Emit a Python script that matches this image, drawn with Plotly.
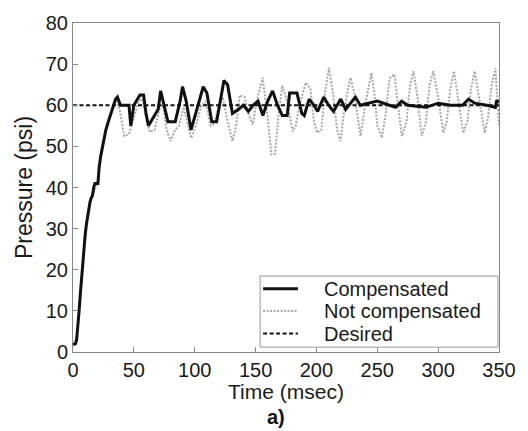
import plotly.graph_objects as go

# Compensated response (time in msec, pressure in psi)
comp_t = [0, 2, 3, 4, 5, 6, 7, 8, 9, 10, 11, 12, 13, 14, 15, 16, 17, 18, 20.5, 21.5, 23, 25, 27, 29, 31, 33, 35, 36.5, 38, 39,
          46, 47.5, 50, 53, 55, 58, 60, 62, 66, 70, 72, 75, 78, 84, 88, 90, 93, 97, 100, 104, 107, 110, 114, 118, 122, 124, 127,
          131, 136, 140, 144, 148, 152, 156, 160, 164, 168, 172, 176, 178, 184, 188, 190, 194, 198, 201, 206, 210, 214, 220,
          224, 232, 236, 250, 260, 265, 270, 275, 290, 300, 310, 320, 325, 330, 340, 347, 348, 350]
comp_p = [1.8, 2, 3, 6, 10, 14, 18, 22, 25.5, 28.5, 31, 33, 35, 36.5, 37.5, 38, 40, 41, 41, 45, 48, 51, 54, 56, 58, 60, 61.5, 62, 61, 60,
          60, 55, 60, 61.5, 62.5, 62.5, 58, 55, 57, 59, 63.5, 60, 56, 56, 61, 64.5, 61, 54, 57, 61, 64.5, 63, 56, 56, 63, 66, 65,
          58, 59, 60, 58.5, 60, 61, 57.5, 61, 63.5, 60, 57.5, 57.5, 63, 63, 58, 57.5, 61.5, 60, 58.5, 62, 60, 58.5, 61.5,
          59, 62, 60, 61, 60, 59.5, 61, 60, 59.5, 60.5, 60, 60, 61.5, 60.5, 60, 59.5, 61, 61]

# Not compensated response
nc_t = [0, 2, 4, 6, 8, 10, 12, 14, 16, 18, 20, 22, 25, 28, 31, 34, 36, 39, 42, 46, 50, 54, 57, 60, 63, 67, 71, 74, 77, 80, 84, 87,
        91, 94, 97, 101, 105, 109, 113, 116, 120, 123, 127, 131, 134, 137, 141, 144, 147.6, 151, 155.8, 160, 163, 166, 169, 172,
        176, 180.3, 183, 186, 191.2, 195, 198, 200.7, 204, 207, 210.3, 214, 217, 219.8, 222, 226, 228, 231, 236.2, 240, 245.2,
        248, 250, 253.8, 257, 260, 264, 267, 270.2, 274, 277, 279.7, 283, 286.5, 290, 293, 296, 300, 304.3, 307, 310, 313, 317,
        320.6, 324, 327, 330, 334, 338.3, 341, 344, 347, 350]
nc_p = [2, 2.5, 6.5, 14.5, 22.5, 28.5, 33.5, 36.5, 38.5, 39.5, 41, 46, 51.5, 55.5, 58, 60.5, 61.5, 58, 52.5, 53, 57, 61, 61.5, 57, 53.5, 54, 59, 60, 54, 51.3, 54, 55,
        59.5, 56, 52, 55, 59.5, 61, 55, 55.5, 60, 62, 56, 51.3, 55, 62.4, 62, 58, 55.3, 61, 66.7, 57, 48, 48.2, 58, 64.8,
        61, 53.7, 55, 60, 65.5, 64, 56, 53.3, 54, 63, 69.1, 62, 54, 51.3, 57, 64, 66.7, 63, 52.5, 60, 67.9,
        62, 55, 52.1, 58, 66.5, 67.5, 60, 52.5, 56, 65, 68.3, 62, 52.5, 56, 65, 68.3, 62, 53.3, 56, 64, 68.3, 61,
        53.3, 56, 64, 68.3, 61, 53.3, 57, 65, 69, 55]

# Desired setpoint
des_t = [0, 350]
des_p = [60, 60]

x_ticks = [0, 50, 100, 150, 200, 250, 300, 350]
y_ticks = [0, 10, 20, 30, 40, 50, 60, 70, 80]

legend_names = ["Compensated", "Not compensated", "Desired"]

FONT = "Liberation Sans, Arial, sans-serif"
BLACK = "#111111"
GRAY = "#a8a8a8"
DOT = "2px,1.5px"
DASH = "4px,2.5px"

fig = go.Figure()
fig.add_trace(go.Scatter(x=nc_t, y=nc_p, mode="lines", name=legend_names[1],
                         line=dict(color=GRAY, width=2, dash=DOT)))
fig.add_trace(go.Scatter(x=des_t, y=des_p, mode="lines", name=legend_names[2],
                         line=dict(color=BLACK, width=2, dash=DASH)))
fig.add_trace(go.Scatter(x=comp_t, y=comp_p, mode="lines", name=legend_names[0],
                         line=dict(color=BLACK, width=3)))

axis_common = dict(showgrid=False, zeroline=False, showline=True, mirror=True,
                   linecolor="#888888", linewidth=1, ticks="inside", ticklen=5,
                   tickcolor="#888888", tickfont=dict(family=FONT, size=20, color="#1a1a1a"))

# Compact legend box (lower right), drawn in paper coordinates
box = dict(x0=0.4393, x1=0.9977, y0=0.0148, y1=0.2308)
rows_y = [0.1923, 0.1243, 0.0562]
sample_x = (0.4463, 0.5280)
text_x = 0.5841
styles = [dict(color=BLACK, width=3), dict(color=GRAY, width=2, dash=DOT), dict(color=BLACK, width=2, dash=DASH)]

shapes = [dict(type="rect", xref="paper", yref="paper", **box,
               line=dict(color="#999999", width=1), fillcolor="white", layer="above")]
annotations = []
for name, yy, st in zip(legend_names, rows_y, styles):
    shapes.append(dict(type="line", xref="paper", yref="paper", x0=sample_x[0], x1=sample_x[1],
                       y0=yy, y1=yy, line=st, layer="above"))
    annotations.append(dict(text=name, xref="paper", yref="paper", x=text_x, y=yy,
                            xanchor="left", yanchor="middle", showarrow=False,
                            font=dict(family=FONT, size=20, color="#1a1a1a")))

# x-axis title and panel label
annotations.append(dict(text="Time (msec)", xref="paper", yref="paper", x=0.5, y=-0.119,
                        xanchor="center", yanchor="middle", showarrow=False,
                        font=dict(family=FONT, size=21, color="#1a1a1a")))
annotations.append(dict(text="<b>a)</b>", xref="paper", yref="paper", x=0.477, y=-0.198,
                        xanchor="center", yanchor="middle", showarrow=False,
                        font=dict(family=FONT, size=20, color=BLACK)))

fig.update_layout(
    width=528, height=431,
    margin=dict(l=73, r=27, t=14, b=79),
    paper_bgcolor="white", plot_bgcolor="white",
    showlegend=False,
    xaxis=dict(range=[0, 350], tickvals=x_ticks, **axis_common),
    yaxis=dict(range=[0, 80], tickvals=y_ticks, title=dict(text="Pressure (psi)", standoff=6,
               font=dict(family=FONT, size=23, color="#1a1a1a")), **axis_common),
    shapes=shapes,
    annotations=annotations,
)

fig.write_html("out.html")
